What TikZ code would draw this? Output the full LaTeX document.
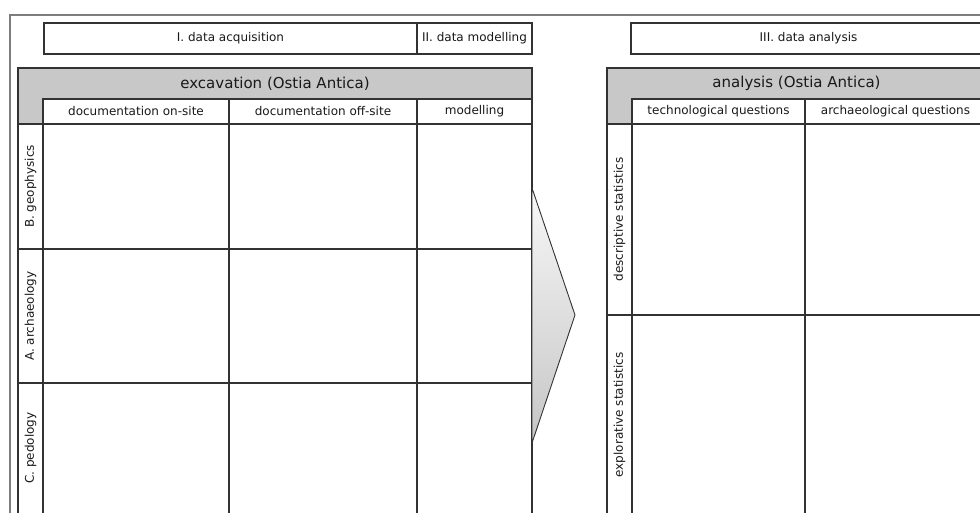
\documentclass[tikz,border=0pt]{standalone}
\usepackage{fontspec}
\setmainfont{DejaVu Sans}
\definecolor{headgray}{RGB}{200,200,200}
\definecolor{linegray}{RGB}{50,50,50}
\definecolor{framegray}{RGB}{125,125,125}
\tikzset{
  cell/.style={draw=linegray, line width=1.1pt, fill=white, anchor=north west,
    inner sep=0pt, outer sep=0pt, text=black!90, font=\fontsize{12}{14}\selectfont},
  band/.style={cell, fill=headgray},
  title/.style={text=black!90, font=\fontsize{15}{18}\selectfont},
  rowlabel/.style={rotate=90, text=black!90, font=\fontsize{12}{14}\selectfont},
  grid/.style={draw=linegray, line width=1.1pt}
}
\begin{document}
\begin{tikzpicture}[x=1pt,y=-1pt]
\useasboundingbox (0,0) rectangle (980,513);
\clip (0,0) rectangle (980,513);
% outer frame
\draw [framegray, line width=1.8pt] (10,530) -- (10,15) -- (1000,15);
% phases
\node[cell, minimum width=373, minimum height=31] (acq) at (44,23) {I. data acquisition};
\node[cell, minimum width=115, minimum height=31] (mod) at (417,23) {II. data modelling};
\node[cell, minimum width=355, minimum height=31] (ana) at (631,23) {III. data analysis};
% excavation table
\node[band, minimum width=514, minimum height=56] (exc) at (18,68) {};
\node[title] (exctitle) at (275,83.5) {excavation (Ostia Antica)};
\node[cell, minimum width=186, minimum height=25] (onsite) at (43,99) {documentation on-site};
\node[cell, minimum width=188, minimum height=25] (offsite) at (229,99) {documentation off-site};
\node[cell, minimum width=115, minimum height=25] (modcol) at (417,99) {modelling};
\draw [grid] (18,124) rectangle (532,530);
\draw [grid] (43,124) -- (43,530);
\draw [grid] (229,124) -- (229,530);
\draw [grid] (417,124) -- (417,530);
\draw [grid] (18,249) -- (532,249);
\draw [grid] (18,383) -- (532,383);
\node[rowlabel] (geo) at (30.5,186.5) {B. geophysics};
\node[rowlabel] (arch) at (30.5,316) {A. archaeology};
\node[rowlabel] (ped) at (30.5,448) {C. pedology};
% arrow
\shade [top color=gray!6, bottom color=gray!45, draw=linegray, line width=0.9pt]
  (532,188) -- (575,315) -- (532,443) -- cycle;
% analysis table
\node[band, minimum width=379, minimum height=56] (anl) at (607,68) {};
\node[title] (anltitle) at (796.5,83.5) {analysis (Ostia Antica)};
\node[cell, minimum width=173, minimum height=25] (tech) at (632,99) {technological questions};
\node[cell, minimum width=181, minimum height=25] (archq) at (805,99) {archaeological questions};
\draw [grid] (607,124) rectangle (986,530);
\draw [grid] (632,124) -- (632,530);
\draw [grid] (805,124) -- (805,530);
\draw [grid] (607,315) -- (986,315);
\node[rowlabel] (desc) at (619.5,219.5) {descriptive statistics};
\node[rowlabel] (expl) at (619.5,415) {explorative statistics};
\end{tikzpicture}
\end{document}
